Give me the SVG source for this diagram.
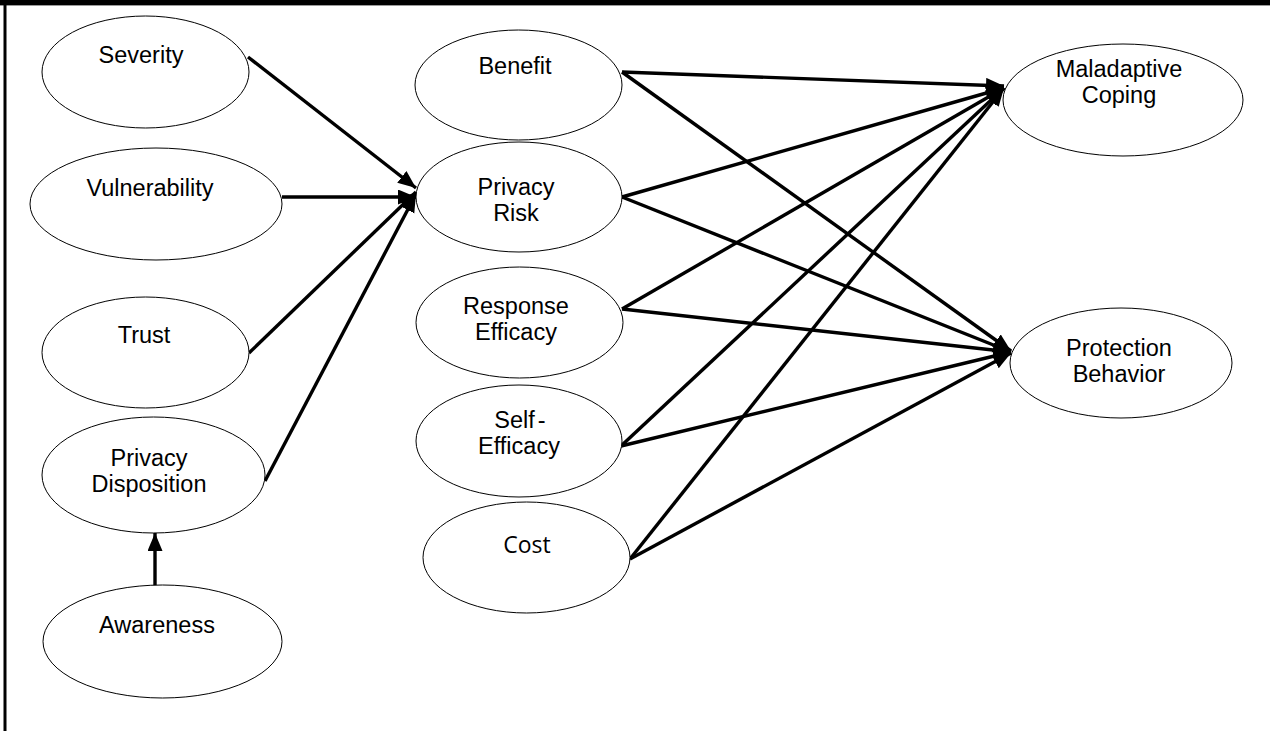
<svg xmlns="http://www.w3.org/2000/svg" width="1270" height="731" viewBox="0 0 1270 731">
  <defs>
    <style>
      .node ellipse { fill: #ffffff; stroke: #000000; stroke-width: 1; }
      .node text { font-family: "Liberation Sans", Arial, sans-serif; font-size: 23.5px; fill: #000000; text-anchor: middle; }
      .node text.alt { font-family: "Open Sans", "Noto Sans", sans-serif; font-size: 23px; }
      .edge { stroke: #000000; stroke-width: 3.4; fill: none; marker-end: url(#head); }
    </style>
    <marker id="head" markerUnits="userSpaceOnUse" markerWidth="20" markerHeight="16" refX="18" refY="7.5" orient="auto">
      <path d="M0,0 L18,7.5 L0,15 Z" fill="#000000"/>
    </marker>
  </defs>

  <rect width="1270" height="731" fill="#ffffff"/>
  <!-- page frame: heavy top rule and left rule -->
  <rect x="0" y="0" width="1270" height="5" fill="#000000"/>
  <rect x="0" y="5" width="1270" height="1" fill="#9a9a9a"/>
  <rect x="3.5" y="0" width="3" height="731" fill="#000000"/>

  <g id="connectors">
    <line class="edge" x1="248" y1="57" x2="416" y2="188"/>
    <line class="edge" x1="282" y1="197" x2="416" y2="197"/>
    <line class="edge" x1="249" y1="353" x2="416" y2="192"/>
    <line class="edge" x1="265" y1="481" x2="416" y2="194"/>
    <line class="edge" x1="155" y1="586" x2="155" y2="533"/>

    <line class="edge" x1="622" y1="72" x2="1004" y2="86"/>
    <line class="edge" x1="622" y1="72" x2="1011" y2="351"/>
    <line class="edge" x1="622" y1="197" x2="1004" y2="88"/>
    <line class="edge" x1="622" y1="197" x2="1011" y2="352"/>
    <line class="edge" x1="622" y1="309" x2="1004" y2="88"/>
    <line class="edge" x1="622" y1="309" x2="1011" y2="352"/>
    <line class="edge" x1="621" y1="446" x2="1004" y2="88"/>
    <line class="edge" x1="621" y1="446" x2="1011" y2="352"/>
    <line class="edge" x1="630" y1="559" x2="1004" y2="88"/>
    <line class="edge" x1="630" y1="559" x2="1011" y2="353"/>
  </g>

  <g id="severity" class="node">
    <ellipse cx="145.5" cy="72" rx="103.5" ry="56"/>
    <text x="141" y="63">Severity</text>
  </g>
  <g id="vulnerability" class="node">
    <ellipse cx="156" cy="204" rx="126" ry="56"/>
    <text x="150" y="196">Vulnerability</text>
  </g>
  <g id="trust" class="node">
    <ellipse cx="145.5" cy="352.5" rx="103.5" ry="55.5"/>
    <text x="144" y="343">Trust</text>
  </g>
  <g id="privacy-disposition" class="node">
    <ellipse cx="153.5" cy="475" rx="111.5" ry="58"/>
    <text x="149" y="466">Privacy</text>
    <text x="149" y="492">Disposition</text>
  </g>
  <g id="awareness" class="node">
    <ellipse cx="162.5" cy="641.5" rx="119.5" ry="56.5"/>
    <text x="157" y="633">Awareness</text>
  </g>

  <g id="benefit" class="node">
    <ellipse cx="518.5" cy="85" rx="103.5" ry="55"/>
    <text x="515" y="74">Benefit</text>
  </g>
  <g id="privacy-risk" class="node">
    <ellipse cx="519" cy="197" rx="103" ry="55"/>
    <text x="516" y="195">Privacy</text>
    <text x="516" y="221">Risk</text>
  </g>
  <g id="response-efficacy" class="node">
    <ellipse cx="519.5" cy="322.5" rx="103.5" ry="55.5"/>
    <text x="516" y="314">Response</text>
    <text x="516" y="340">Efficacy</text>
  </g>
  <g id="self-efficacy" class="node">
    <ellipse cx="519" cy="441" rx="103" ry="56"/>
    <text x="520" y="428">Self<tspan dx="3">-</tspan></text>
    <text x="519" y="454">Efficacy</text>
  </g>
  <g id="cost" class="node">
    <ellipse cx="526.5" cy="557.5" rx="103.5" ry="55.5"/>
    <text class="alt" x="527" y="553">Cost</text>
  </g>

  <g id="maladaptive-coping" class="node">
    <ellipse cx="1123" cy="100" rx="120" ry="56"/>
    <text x="1119" y="77">Maladaptive</text>
    <text x="1119" y="103">Coping</text>
  </g>
  <g id="protection-behavior" class="node">
    <ellipse cx="1121" cy="363" rx="111" ry="55"/>
    <text x="1119" y="356">Protection</text>
    <text x="1119" y="382">Behavior</text>
  </g>
</svg>
